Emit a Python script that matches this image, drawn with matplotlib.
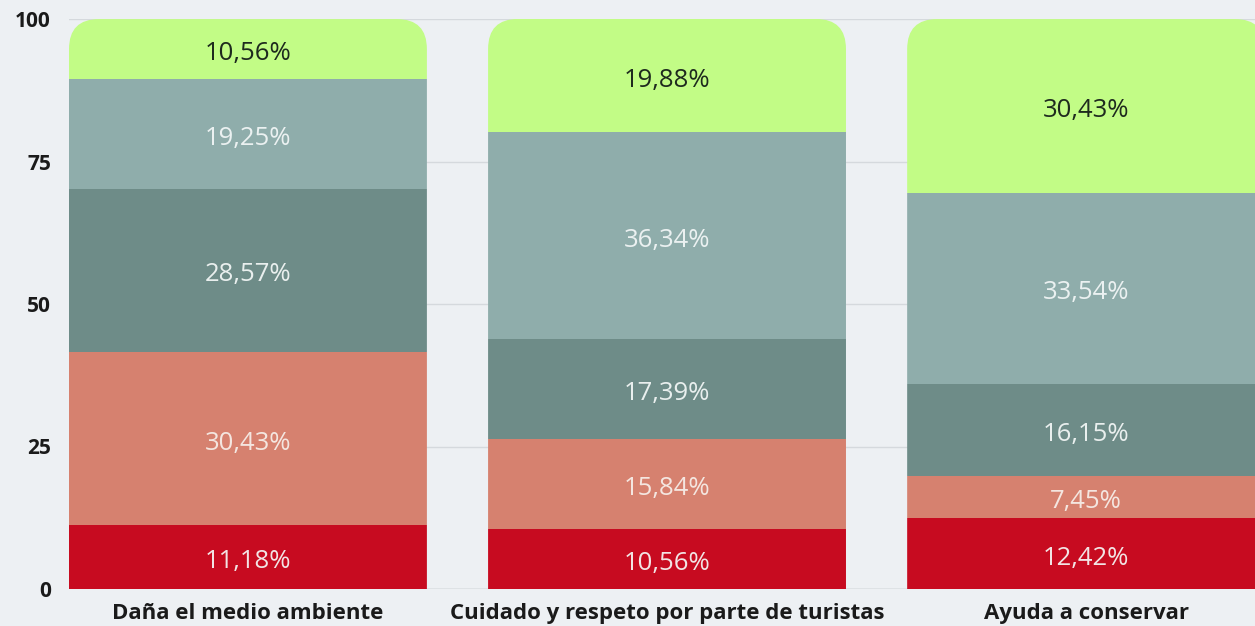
import matplotlib
matplotlib.use("Agg")
import matplotlib.pyplot as plt
from matplotlib.patches import FancyBboxPatch
import numpy as np

plt.rcParams["font.family"] = ["Open Sans", "DejaVu Sans"]

categories = ["Daña el medio ambiente",
              "Cuidado y respeto por parte de turistas",
              "Ayuda a conservar"]
# stack order bottom -> top
seg1 = [11.18, 10.56, 12.42]
seg2 = [30.43, 15.84, 7.45]
seg3 = [28.57, 17.39, 16.15]
seg4 = [19.25, 36.34, 33.54]
seg5 = [10.56, 19.88, 30.43]
series = [seg1, seg2, seg3, seg4, seg5]
colors = ["#c70b20", "#d6816f", "#6e8c88", "#8fadab", "#c2fc86"]
text_colors = ["#f2e4e4", "#f4e6e0", "#e9efee", "#ebf1f1", "#1e2a1e"]
yticks = [0, 25, 50, 75, 100]

BG = "#edf0f3"
W = 0.854

fig = plt.figure(figsize=(12.55, 6.26), dpi=100, facecolor=BG)
ax = fig.add_axes([69 / 1255, 37 / 626, 1186 / 1255, 570 / 626])
ax.set_facecolor(BG)
ax.set_xlim(-W / 2, 2.403)
ax.set_ylim(0, 100)

x = np.arange(len(categories))
bottom = np.zeros(len(categories))
groups = []
for vals, c, tc in zip(series, colors, text_colors):
    bars = ax.bar(x, vals, W, bottom=bottom, color=c, linewidth=0, zorder=2)
    groups.append(bars)
    for xi, b, v in zip(x, bottom, vals):
        ax.text(xi, b + v / 2 - 0.8, f"{v:.2f}%".replace(".", ","), ha="center",
                va="center", color=tc, fontsize=18.5, zorder=3)
    bottom = bottom + np.array(vals)

# rounded top corners via clip paths
px_x = 419.0     # pixels per x unit
px_y = 5.7       # pixels per y unit
r_px = 30
for i, xi in enumerate(x):
    top = bottom[i]
    clip = FancyBboxPatch((xi - W / 2, -20), W, top + 20,
                          boxstyle=f"round,pad=0,rounding_size={r_px / px_x}",
                          mutation_aspect=px_x / px_y,
                          transform=ax.transData, facecolor="none",
                          edgecolor="none")
    for bars in groups:
        bars[i].set_clip_path(clip)

ax.set_yticks(yticks)
ax.set_yticklabels([str(t) for t in yticks], fontsize=15, fontweight="bold",
                   color="#1a1a1a")
ax.set_xticks(x)
ax.set_xticklabels(categories, fontsize=16, fontweight="bold",
                   color="#1a1a1a")
ax.tick_params(axis="both", length=0)
ax.tick_params(axis="y", pad=13)
ax.tick_params(axis="x", pad=10)
ax.grid(axis="y", color="#d5d9dd", linewidth=1, zorder=0)
ax.set_axisbelow(True)
for s in ax.spines.values():
    s.set_visible(False)
ax.axhline(0, color="#b9bfc4", linewidth=1, zorder=1)

fig.savefig("out.png", dpi=100, facecolor=BG)
